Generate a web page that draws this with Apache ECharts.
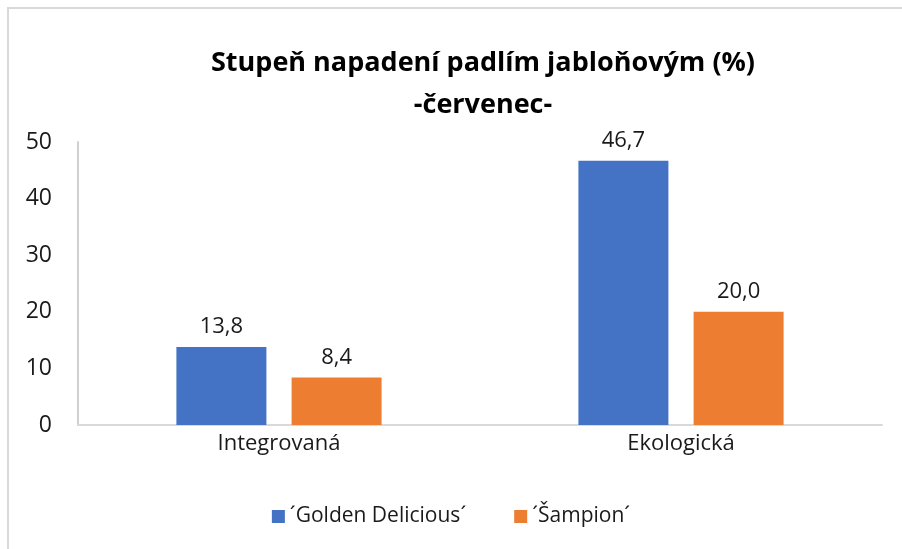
<!DOCTYPE html>
<html>
<head>
<meta charset="utf-8">
<script src="https://cdn.jsdelivr.net/npm/echarts@6/dist/echarts.min.js"></script>
<style>
  html, body { margin: 0; padding: 0; background: #fff; }
  #chart { width: 902px; height: 549px; }
</style>
</head>
<body>
<div id="chart"></div>
<script>
const categories = ['Integrovaná', 'Ekologická'];
const seriesNames = ['´Golden Delicious´', '´Šampion´'];
const goldenValues = [13.8, 46.7];
const sampionValues = [8.4, 20.0];
const yTicks = { min: 0, max: 50, interval: 10 };

const fontFamily = 'Open Sans, Noto Sans, sans-serif';
const labelFmt = (p) => p.value.toFixed(1).replace('.', ',');

const chart = echarts.init(document.getElementById('chart'), null, { renderer: 'canvas' });

const option = {
  animation: false,
  backgroundColor: '#fff',
  title: {
    text: 'Stupeň napadení padlím jabloňovým (%)\n-červenec-',
    left: 478,
    textAlign: 'center',
    top: 37,
    textStyle: {
      fontFamily: fontFamily,
      fontSize: 27,
      fontWeight: 'bold',
      color: '#000',
      lineHeight: 42,
    },
  },
  legend: {
    bottom: 17,
    left: 'center',
    itemWidth: 13,
    itemHeight: 13,
    itemGap: 48,
    icon: 'rect',
    selectedMode: false,
    textStyle: { fontFamily: fontFamily, fontSize: 21, color: '#1a1a1a' },
    data: seriesNames,
  },
  grid: {
    left: 78,
    right: 20,
    top: 142,
    bottom: 124,
  },
  xAxis: {
    type: 'category',
    data: categories,
    axisLine: { show: true, lineStyle: { color: '#d9d9d9', width: 2 } },
    axisTick: { show: false },
    axisLabel: {
      fontFamily: fontFamily,
      fontSize: 22,
      color: '#1a1a1a',
      margin: 8,
    },
  },
  yAxis: {
    type: 'value',
    min: yTicks.min,
    max: yTicks.max,
    interval: yTicks.interval,
    axisLine: { show: true, lineStyle: { color: '#d0d0d0', width: 2 } },
    axisTick: { show: false },
    splitLine: { show: false },
    axisLabel: {
      fontFamily: fontFamily,
      fontSize: 23,
      color: '#1a1a1a',
      margin: 26,
    },
  },
  graphic: [
    { type: 'line', shape: { x1: 7, y1: 8, x2: 902, y2: 8 }, style: { stroke: '#d9d9d9', lineWidth: 2 } },
    { type: 'line', shape: { x1: 8, y1: 8, x2: 8, y2: 549 }, style: { stroke: '#d9d9d9', lineWidth: 2 } },
  ],
  series: [
    {
      name: seriesNames[0],
      type: 'bar',
      data: goldenValues,
      barWidth: 90,
      barGap: '28%',
      itemStyle: { color: '#4472c4' },
      label: {
        show: true,
        position: 'top',
        distance: 9,
        formatter: labelFmt,
        fontFamily: fontFamily,
        fontSize: 22,
        color: '#1a1a1a',
      },
    },
    {
      name: seriesNames[1],
      type: 'bar',
      data: sampionValues,
      barWidth: 90,
      barGap: '28%',
      itemStyle: { color: '#ed7d31' },
      label: {
        show: true,
        position: 'top',
        distance: 9,
        formatter: labelFmt,
        fontFamily: fontFamily,
        fontSize: 22,
        color: '#1a1a1a',
      },
    },
  ],
};

chart.setOption(option);
</script>
</body>
</html>
